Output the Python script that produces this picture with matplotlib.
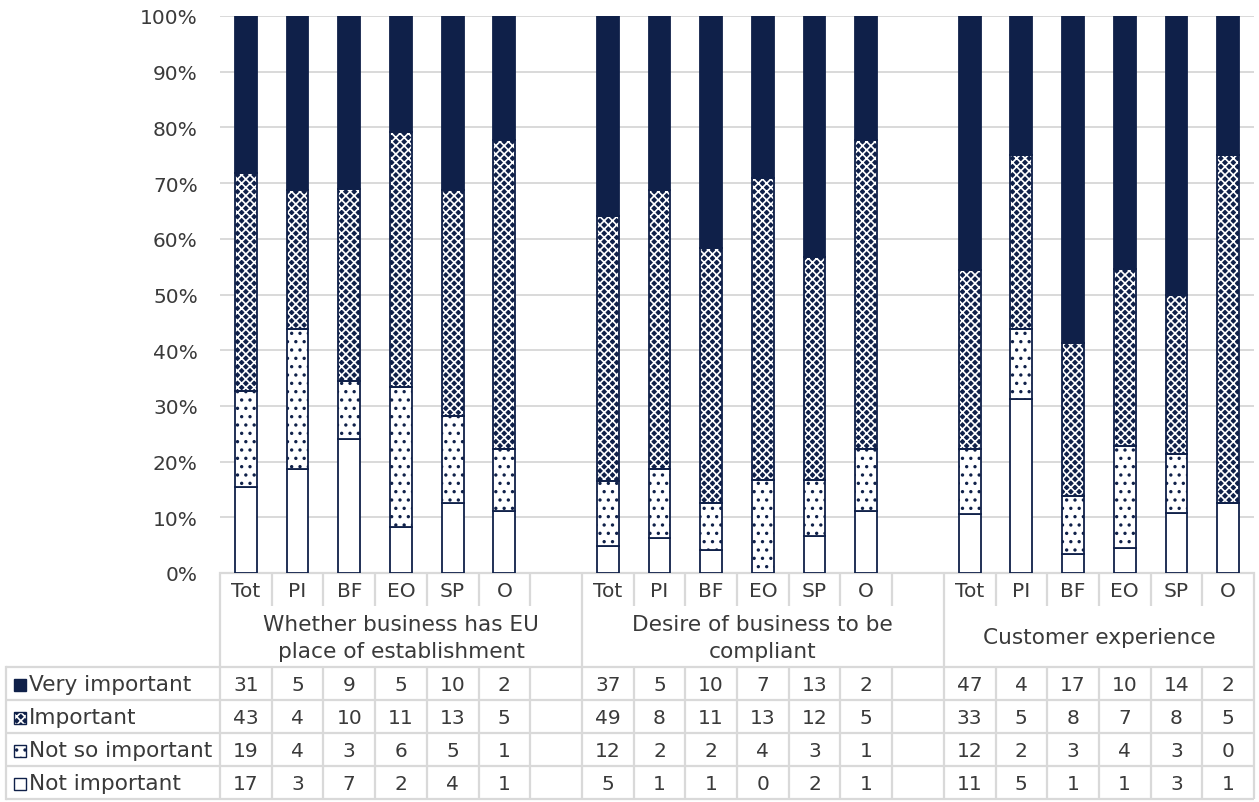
import matplotlib
matplotlib.use("Agg")
import matplotlib.pyplot as plt
import matplotlib.transforms as mtransforms
from matplotlib.patches import Rectangle
import numpy as np

plt.rcParams['font.family'] = ['DejaVu Sans']
plt.rcParams['hatch.linewidth'] = 1.2

# ---------------- data ----------------
groups = ["Whether business has EU\nplace of establishment",
          "Desire of business to be\ncompliant",
          "Customer experience"]
subcats = ["Tot", "PI", "BF", "EO", "SP", "O"]
series = ["Very important", "Important", "Not so important", "Not important"]

very_important = [31, 5, 9, 5, 10, 2,   37, 5, 10, 7, 13, 2,   47, 4, 17, 10, 14, 2]
important      = [43, 4, 10, 11, 13, 5, 49, 8, 11, 13, 12, 5,  33, 5, 8, 7, 8, 5]
not_so         = [19, 4, 3, 6, 5, 1,    12, 2, 2, 4, 3, 1,     12, 2, 3, 4, 3, 0]
not_important  = [17, 3, 7, 2, 4, 1,    5, 1, 1, 0, 2, 1,      11, 5, 1, 1, 3, 1]

NAVY = "#0f2049"
GRID = "#d9d9d9"
TXT = "#3a3a3a"
FS = 14.5
FS_T = 15.6

W, H = 1259, 803
fig = plt.figure(figsize=(W / 100, H / 100), dpi=100)

# slot positions: 6 bars per group + blank slot between groups
positions = []
for g in range(3):
    for j in range(6):
        positions.append(g * 7 + j)
positions = np.array(positions)
nslots = 20

ax_l, ax_r, ax_t, ax_b = 220, 1254, 17, 574
ax = fig.add_axes([ax_l / W, 1 - ax_b / H, (ax_r - ax_l) / W, (ax_b - ax_t) / H])
ax.set_xlim(-0.5, nslots - 0.5)
ax.set_ylim(0, 1)

vi = np.array(very_important, float)
im = np.array(important, float)
ns = np.array(not_so, float)
ni = np.array(not_important, float)
tot = vi + im + ns + ni
p_ni, p_ns, p_im, p_vi = ni / tot, ns / tot, im / tot, vi / tot

bw = 0.42
lw = 1.3
# Not important
ax.bar(positions, p_ni, bw, color="white", edgecolor=NAVY, linewidth=lw, zorder=3)
# Not so important: white with navy dots
b1 = p_ni
ax.bar(positions, p_ns, bw, bottom=b1, color="white", edgecolor=NAVY, hatch="..",
       linewidth=0, zorder=3)
ax.bar(positions, p_ns, bw, bottom=b1, color="none", edgecolor=NAVY, linewidth=lw, zorder=4)
# Important: navy with white pattern
b2 = b1 + p_ns
ax.bar(positions, p_im, bw, bottom=b2, color=NAVY, edgecolor="white", hatch="xxxx",
       linewidth=0, zorder=3)
ax.bar(positions, p_im, bw, bottom=b2, color="none", edgecolor=NAVY, linewidth=lw, zorder=4)
# Very important
b3 = b2 + p_im
ax.bar(positions, p_vi, bw, bottom=b3, color=NAVY, edgecolor=NAVY, linewidth=lw, zorder=3)

ax.set_yticks(np.linspace(0, 1, 11))
ax.set_yticklabels([f"{int(round(v*100))}%" for v in np.linspace(0, 1, 11)],
                   fontsize=FS, color=TXT)
ax.tick_params(axis="y", length=0, pad=16)
ax.tick_params(axis="x", length=0, labelbottom=False)
ax.set_xticks([])
ax.grid(axis="y", color=GRID, linewidth=1.4, zorder=0)
ax.set_axisbelow(True)
for s in ["top", "right", "left"]:
    ax.spines[s].set_visible(False)
ax.spines["bottom"].set_color(GRID)
ax.spines["bottom"].set_linewidth(1.6)

# ---------------- table overlay (pixel coordinates) ----------------
ov = fig.add_axes([0, 0, 1, 1], facecolor="none")
ov.set_xlim(0, W)
ov.set_ylim(H, 0)
ov.axis("off")
tr = mtransforms.blended_transform_factory(ax.transData, ov.transData)

y_top, y_tick_bot, y_grp_bot = 575, 607, 668
row_h = 33.0
rows_y = [y_grp_bot + k * row_h for k in range(5)]
tlw = 1.6

def vline(x, y0, y1):
    ov.plot([x, x], [y0, y1], color=GRID, linewidth=tlw, transform=tr,
            solid_capstyle="butt", zorder=1)

# group boundaries (full height)
for gb in [-0.5, 6.5, 13.5, 19.5]:
    vline(gb, y_top, rows_y[-1])
# inner slot boundaries
for i in range(nslots - 1):
    xb = i + 0.5
    if xb in (6.5, 13.5):
        continue
    vline(xb, y_top, y_tick_bot)
    vline(xb, rows_y[0], rows_y[-1])
# horizontal table lines
for y in rows_y:
    ov.plot([6, ax_r], [y, y], color=GRID, linewidth=tlw, zorder=1, solid_capstyle="butt")
ov.plot([6, 6], [rows_y[0], rows_y[-1]], color=GRID, linewidth=tlw, zorder=1)

# subcategory labels
for p, k in zip(positions, list(range(18))):
    ov.text(p, (y_top + y_tick_bot) / 2 + 1, subcats[k % 6], transform=tr,
            ha="center", va="center", fontsize=FS, color=TXT)
# group labels
for g, name in enumerate(groups):
    cx = (g * 7 - 0.5 + (g * 7 + 6.5 if g < 2 else 19.5)) / 2
    ov.text(cx, (y_tick_bot + y_grp_bot) / 2 + 1, name, transform=tr, ha="center",
            va="center", fontsize=FS_T, color=TXT, linespacing=1.45)

# data rows
data_rows = [very_important, important, not_so, not_important]
for r, vals in enumerate(data_rows):
    yc = (rows_y[r] + rows_y[r + 1]) / 2 + 1
    for p, v in zip(positions, vals):
        ov.text(p, yc, str(v), transform=tr, ha="center", va="center",
                fontsize=FS, color=TXT)
    # legend key
    sq = 12
    x0 = 14
    if r == 0:
        ov.add_patch(Rectangle((x0, yc - sq / 2), sq, sq, facecolor=NAVY,
                               edgecolor=NAVY, linewidth=1))
    elif r == 1:
        ov.add_patch(Rectangle((x0, yc - sq / 2), sq, sq, facecolor=NAVY,
                               edgecolor="white", hatch="xxxx", linewidth=0))
        ov.add_patch(Rectangle((x0, yc - sq / 2), sq, sq, facecolor="none",
                               edgecolor=NAVY, linewidth=1))
    elif r == 2:
        ov.add_patch(Rectangle((x0, yc - sq / 2), sq, sq, facecolor="white",
                               edgecolor=NAVY, hatch="..", linewidth=0))
        ov.add_patch(Rectangle((x0, yc - sq / 2), sq, sq, facecolor="none",
                               edgecolor=NAVY, linewidth=1))
    else:
        ov.add_patch(Rectangle((x0, yc - sq / 2), sq, sq, facecolor="white",
                               edgecolor=NAVY, linewidth=1))
    ov.text(29, yc, series[r], ha="left", va="center", fontsize=FS_T, color=TXT)

fig.savefig("out.png", dpi=100)
